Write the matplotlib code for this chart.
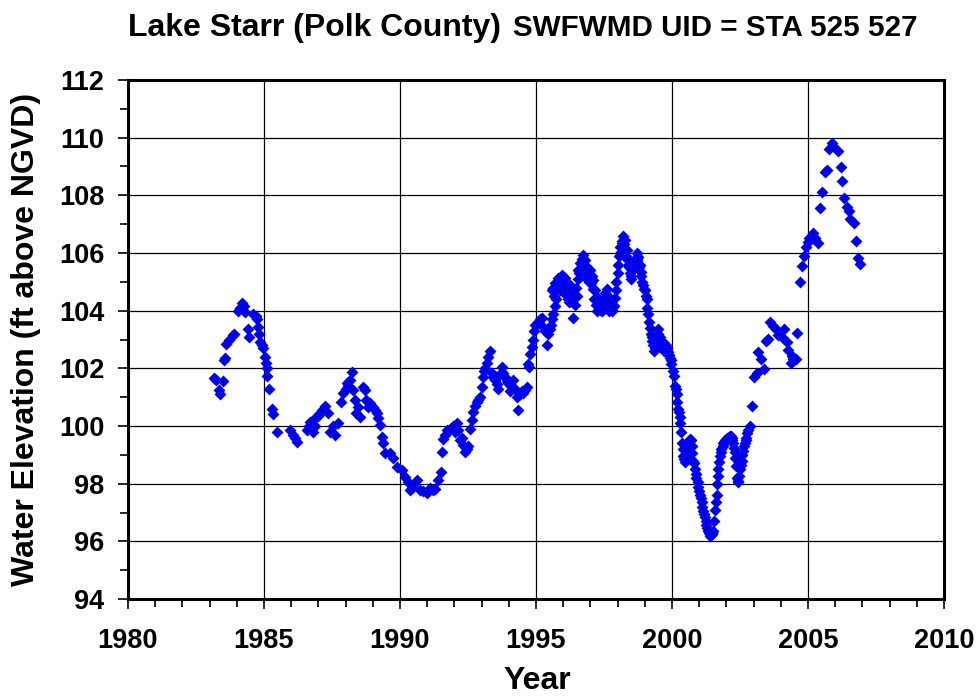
import matplotlib
matplotlib.use('Agg')
import matplotlib.pyplot as plt
from matplotlib.ticker import MultipleLocator

plt.rcParams['font.family'] = ['Liberation Sans', 'DejaVu Sans']
plt.rcParams['font.weight'] = 'bold'

# 1983 - 1991.5
yr_a = [1983.15, 1983.25, 1983.35, 1983.38, 1983.48, 1983.53, 1983.58, 1983.62, 1983.72,
        1983.85, 1983.9, 1984.05, 1984.12, 1984.19, 1984.25, 1984.3, 1984.42, 1984.45,
        1984.6, 1984.7, 1984.75, 1984.79, 1984.82, 1984.85, 1984.92, 1984.97, 1985.04,
        1985.07, 1985.1, 1985.13, 1985.19, 1985.28, 1985.34, 1985.47,
        1985.96, 1986.08, 1986.14, 1986.2, 1986.57, 1986.65, 1986.69, 1986.81, 1986.87,
        1986.93, 1987.0, 1987.06, 1987.15, 1987.24, 1987.36, 1987.43, 1987.55, 1987.61,
        1987.73, 1987.85, 1987.91, 1988.0, 1988.04, 1988.1, 1988.16, 1988.22, 1988.28,
        1988.35, 1988.4, 1988.47, 1988.53, 1988.65, 1988.71, 1988.77, 1988.83, 1988.9,
        1989.02, 1989.08, 1989.14, 1989.2, 1989.26, 1989.33, 1989.36, 1989.45, 1989.63,
        1989.75, 1989.88, 1990.06, 1990.18, 1990.31, 1990.37, 1990.45, 1990.52, 1990.61,
        1990.74, 1990.85, 1990.98, 1991.1, 1991.22, 1991.3, 1991.41]
elev_a = [101.65, 101.6, 101.25, 101.1, 101.55, 102.3, 102.35, 102.85, 103.0,
          103.15, 103.2, 104.0, 104.1, 104.25, 104.15, 103.95, 103.35, 103.1,
          103.9, 103.8, 103.7, 103.45, 103.2, 102.9, 102.8, 102.7, 102.4,
          102.2, 102.0, 101.75, 101.3, 100.6, 100.4, 99.8,
          99.86, 99.69, 99.6, 99.46, 99.85, 100.0, 100.15, 99.8, 100.0,
          100.3, 100.35, 100.45, 100.55, 100.7, 100.45, 99.8, 100.0, 99.7,
          100.1, 100.85, 101.13, 101.3, 101.48, 101.4, 101.6, 101.88, 101.25,
          100.9, 100.44, 100.67, 100.32, 101.36, 101.25, 100.9, 100.67, 100.79,
          100.67, 100.55, 100.44, 100.27, 100.03, 99.63, 99.4, 99.05, 99.05,
          98.88, 98.59, 98.47, 98.24, 98.07, 97.78, 97.85, 98.0, 98.13,
          97.78, 97.75, 97.66, 97.85, 97.78, 97.8, 98.13]

# 1991.5 - 1995.75
yr_b = [1991.5, 1991.53, 1991.59, 1991.65, 1991.72, 1991.84, 1991.96, 1992.02, 1992.08,
        1992.14, 1992.21, 1992.27, 1992.33, 1992.39, 1992.45, 1992.51, 1992.57, 1992.64,
        1992.69, 1992.76, 1992.82, 1992.88, 1992.94, 1993.0, 1993.06, 1993.1, 1993.13,
        1993.19, 1993.25, 1993.31, 1993.37, 1993.43, 1993.49, 1993.55, 1993.61, 1993.68,
        1993.74, 1993.8, 1993.86, 1993.92, 1993.98, 1994.04, 1994.1, 1994.17, 1994.23,
        1994.29, 1994.35, 1994.41, 1994.47, 1994.53, 1994.6, 1994.66, 1994.72, 1994.75,
        1994.78, 1994.84, 1994.9, 1994.93, 1994.96, 1995.03, 1995.09, 1995.15, 1995.21,
        1995.27, 1995.33, 1995.39, 1995.45, 1995.51, 1995.55, 1995.6, 1995.64, 1995.7,
        1995.74]
elev_b = [98.4, 99.1, 99.55, 99.7, 99.85, 99.9, 100.0, 99.8, 100.1,
          99.85, 99.5, 99.6, 99.35, 99.1, 99.2, 99.3, 99.9, 100.2,
          100.5, 100.7, 100.85, 100.9, 101.0, 101.35, 101.7, 101.9, 102.0,
          102.2, 102.4, 102.6, 101.85, 101.7, 101.6, 101.45, 101.3, 101.8,
          102.05, 101.85, 101.7, 101.55, 101.5, 101.2, 101.4, 101.6, 101.3,
          101.0, 100.55, 101.1, 101.2, 101.15, 101.25, 101.35, 102.15, 102.05,
          102.5, 102.75, 103.0, 103.3, 103.5, 103.55, 103.6, 103.7, 103.75,
          103.45, 103.3, 102.8, 103.2, 103.35, 103.5, 103.7, 103.9, 104.15,
          104.4]

# 1995.6 - 2002.9, daily record (dense band)
yr_c = [1995.58, 1995.64, 1995.7, 1995.82, 1995.94, 1996.0, 1996.07, 1996.13, 1996.19,
        1996.25, 1996.31, 1996.37, 1996.43, 1996.5, 1996.56, 1996.62, 1996.68, 1996.74,
        1996.8, 1996.86, 1996.92, 1996.99, 1997.05, 1997.11, 1997.17, 1997.23, 1997.29,
        1997.35, 1997.41, 1997.47, 1997.53, 1997.6, 1997.66, 1997.72, 1997.78, 1997.84,
        1997.9, 1997.96, 1998.03, 1998.09, 1998.15, 1998.21, 1998.27, 1998.33, 1998.39,
        1998.45, 1998.51, 1998.57, 1998.64, 1998.7, 1998.76, 1998.82, 1998.88, 1998.94,
        1999.0, 1999.07, 1999.13, 1999.19, 1999.25, 1999.31, 1999.37, 1999.44, 1999.5,
        1999.56, 1999.62, 1999.68, 1999.74, 1999.8, 1999.87, 1999.93, 1999.98, 2000.05,
        2000.11, 2000.17, 2000.23, 2000.29, 2000.33, 2000.36, 2000.41, 2000.48, 2000.54,
        2000.6, 2000.66, 2000.72, 2000.78, 2000.84, 2000.9, 2000.97, 2001.03, 2001.09,
        2001.15, 2001.21, 2001.27, 2001.33, 2001.4, 2001.46, 2001.52, 2001.56, 2001.6,
        2001.64, 2001.66, 2001.7, 2001.76, 2001.82, 2001.89, 2001.95, 2002.01, 2002.07,
        2002.13, 2002.19, 2002.25, 2002.31, 2002.35, 2002.38, 2002.44, 2002.5, 2002.56,
        2002.62, 2002.68, 2002.74, 2002.8, 2002.87]
elev_c = [104.7, 104.8, 104.95, 105.12, 105.24, 105.1, 105.12, 104.85, 104.6,
          104.9, 104.4, 103.74, 104.2, 104.5, 105.4, 105.65, 105.8, 105.93,
          105.75, 105.52, 105.45, 105.4, 105.2, 105.05, 104.7, 104.48, 104.15,
          104.02, 104.0, 104.37, 104.6, 104.75, 104.3, 104.1, 104.02, 104.2,
          104.45, 105.0, 105.6, 106.2, 106.4, 106.6, 106.45, 106.1, 105.6,
          105.3, 105.2, 105.5, 105.8, 106.0, 105.85, 105.6, 105.2, 104.9,
          104.7, 104.4, 103.9, 103.4, 103.1, 102.8, 102.7, 102.9, 103.2,
          103.1, 102.95, 102.85, 102.75, 102.7, 102.55, 102.35, 102.15, 101.9,
          101.4, 101.1, 100.6, 100.3, 99.8, 99.4, 98.95, 98.75, 99.0,
          99.4, 99.55, 99.3, 98.8, 98.5, 98.2, 97.9, 97.6, 97.35,
          97.05, 96.85, 96.55, 96.35, 96.2, 96.25, 96.35, 96.7, 97.1,
          97.6, 98.0, 98.5, 98.95, 99.2, 99.4, 99.5, 99.55, 99.6,
          99.65, 99.6, 99.4, 99.1, 98.6, 98.2, 98.05, 98.5, 98.8,
          99.15, 99.4, 99.6, 99.85, 100.0]

# extra readings in the same period (spread of the band)
yr_d = [1995.67, 1995.76, 1995.85, 1995.9, 1996.03, 1996.1, 1996.16, 1996.22, 1996.28,
        1996.47, 1996.53, 1996.59, 1996.65, 1996.71, 1996.77, 1996.83, 1996.89, 1996.95,
        1997.02, 1997.08, 1997.14, 1997.2, 1997.26, 1997.32, 1997.38, 1997.44, 1997.5,
        1997.56, 1997.63, 1997.69, 1997.75, 1997.81, 1997.87, 1997.93, 1998.0, 1998.06,
        1998.12, 1998.18, 1998.24, 1998.3, 1998.36, 1998.42, 1998.48, 1998.54, 1998.6,
        1998.67, 1998.73, 1998.79, 1998.85, 1998.91, 1998.97, 1999.04, 1999.1, 1999.16,
        1999.22, 1999.28, 1999.34, 1999.4, 1999.47, 1999.53, 1999.59, 1999.65, 1999.71,
        1999.77, 1999.83, 1999.9, 1999.96,
        2000.08, 2000.14, 2000.2, 2000.26, 2000.31, 2000.39, 2000.44, 2000.51, 2000.57,
        2000.63, 2000.69, 2000.75, 2000.81, 2000.87, 2000.94, 2001.0, 2001.06, 2001.12,
        2001.18, 2001.24, 2001.3, 2001.36, 2001.43, 2001.49, 2001.62, 2001.68, 2001.73,
        2001.79, 2001.86, 2001.92, 2001.98, 2002.04, 2002.1, 2002.16, 2002.22, 2002.28,
        2002.33, 2002.41, 2002.47, 2002.53, 2002.59, 2002.65, 2002.71, 2002.77]
elev_d = [104.5, 104.8, 104.85, 104.7, 104.8, 104.55, 104.4, 104.3, 104.6,
          104.8, 105.1, 105.3, 105.4, 105.6, 105.55, 105.25, 105.1, 105.0,
          104.95, 104.75, 104.4, 104.2, 104.0, 104.3, 104.2, 104.1, 104.35,
          104.45, 104.55, 104.0, 104.3, 104.0, 104.15, 104.7, 105.3, 105.9,
          106.05, 106.35, 106.3, 105.9, 105.8, 105.5, 105.1, 105.4, 105.6,
          105.7, 105.75, 105.5, 105.35, 105.0, 104.75, 104.5, 104.1, 103.6,
          103.2, 102.95, 102.6, 103.0, 103.35, 102.95, 102.8, 102.7, 102.6,
          102.8, 102.6, 102.45, 102.3,
          101.75, 101.3, 100.85, 100.5, 100.1, 99.2, 98.85, 98.9, 99.2,
          99.45, 99.5, 99.05, 98.7, 98.35, 98.05, 97.75, 97.5, 97.2,
          96.95, 96.7, 96.45, 96.3, 96.22, 96.3, 97.35, 98.25, 98.75,
          99.1, 99.3, 99.45, 99.5, 99.58, 99.62, 99.65, 99.5, 99.25,
          98.9, 98.1, 98.25, 98.65, 99.0, 99.3, 99.5, 99.75]

# 2002.9 - 2007
yr_e = [2002.93, 2003.02, 2003.11, 2003.17, 2003.27, 2003.38, 2003.46, 2003.52, 2003.6,
        2003.7, 2003.82, 2003.91, 2004.03, 2004.12, 2004.22, 2004.25, 2004.38, 2004.43,
        2004.46, 2004.56, 2004.61, 2004.71, 2004.77, 2004.86, 2004.93, 2005.01, 2005.05,
        2005.2, 2005.26, 2005.38, 2005.44, 2005.53, 2005.62, 2005.71, 2005.77, 2005.87,
        2005.93, 2006.11, 2006.2, 2006.27, 2006.33, 2006.42, 2006.51, 2006.54, 2006.7,
        2006.76, 2006.85, 2006.91]
elev_e = [100.7, 101.71, 101.83, 102.56, 102.31, 101.97, 102.96, 103.02, 103.6,
          103.48, 103.36, 103.16, 103.1, 103.36, 102.93, 102.64, 102.17, 102.44,
          102.32, 102.34, 103.23, 104.98, 105.55, 105.9, 106.2, 106.39, 106.51,
          106.68, 106.51, 106.34, 107.55, 108.1, 108.8, 108.88, 109.6, 109.8,
          109.72, 109.55, 108.97, 108.5, 107.92, 107.58, 107.47, 107.17, 107.05,
          106.43, 105.84, 105.62]

years = yr_a + yr_b + yr_c + yr_d + yr_e
elev = elev_a + elev_b + elev_c + elev_d + elev_e

fig = plt.figure(figsize=(9.79, 6.98), dpi=100)
ax = fig.add_axes([0.1307, 0.1418, 0.8335, 0.7436])

ax.plot(years, elev, ls='none', marker='D', ms=4.4, mfc='#000080', mec='#0000FF', mew=2.0)

ax.set_xlim(1980, 2010)
ax.set_ylim(94, 112)
ax.xaxis.set_major_locator(MultipleLocator(5))
ax.xaxis.set_minor_locator(MultipleLocator(1))
ax.yaxis.set_major_locator(MultipleLocator(2))
ax.yaxis.set_minor_locator(MultipleLocator(1))
ax.grid(True, which='major', color='black', lw=0.9)
ax.set_axisbelow(True)

for s in ax.spines.values():
    s.set_linewidth(2.2)
ax.tick_params(which='major', direction='out', length=7, width=1.2, labelsize=19.5, pad=10)
ax.tick_params(axis='x', which='major', pad=14)
ax.tick_params(which='minor', direction='out', length=5.5, width=1.2)

fig.text(0.5485, 0.025, 'Year', ha='center', va='center', fontsize=23, fontweight='bold')
fig.text(0.027, 0.513, 'Water Elevation (ft above NGVD)', ha='center', va='center',
         rotation=90, fontsize=23, fontweight='bold')

fig.text(0.1307, 0.949, 'Lake Starr (Polk County)', ha='left', va='baseline', fontsize=23, fontweight='bold')
fig.text(0.524, 0.949, 'SWFWMD UID = STA 525 527', ha='left', va='baseline', fontsize=21.3, fontweight='bold')

fig.savefig('out.png', dpi=100)
